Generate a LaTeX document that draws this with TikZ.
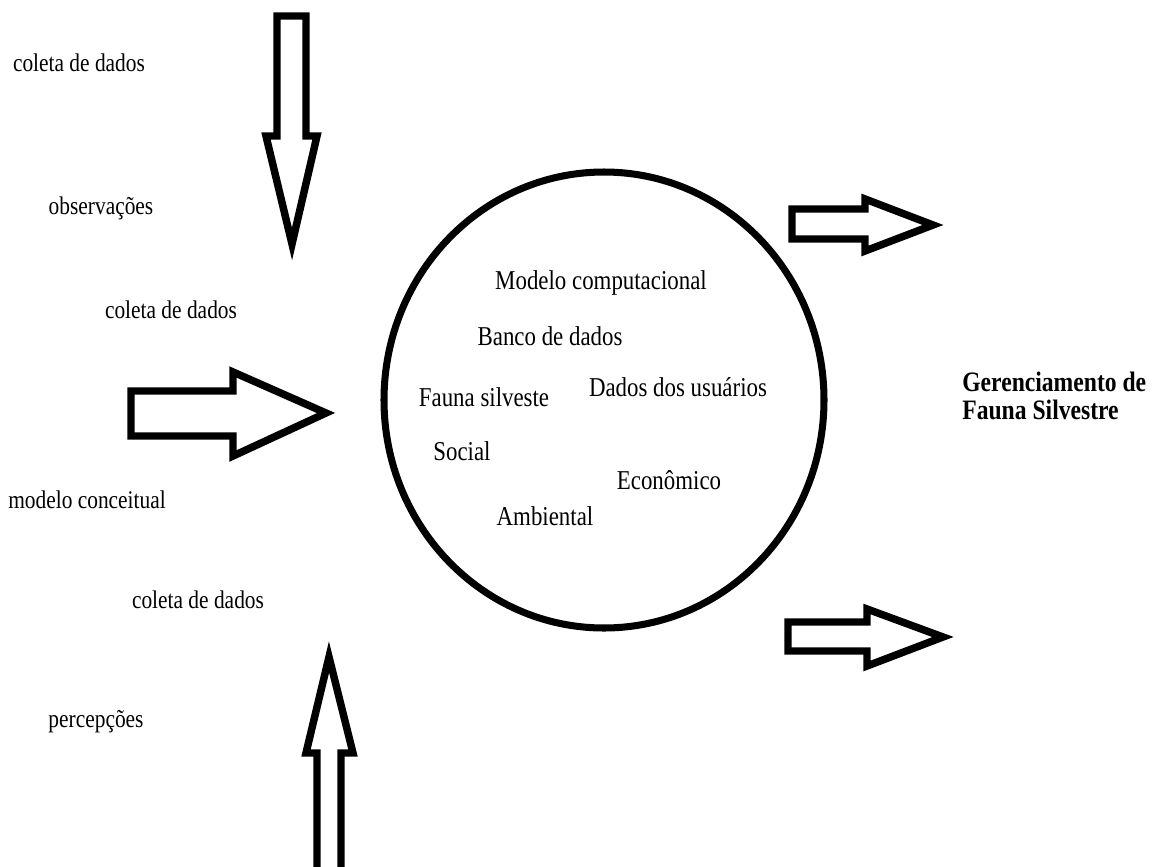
\documentclass[tikz,border=0pt]{standalone}
\usepackage{fontspec}
\setmainfont{Liberation Serif}[FakeStretch=0.84]
\usepackage{tikz}

\begin{document}
\begin{tikzpicture}[x=0.02cm,y=-0.02cm]

	\tikzstyle block arrows=[line width=7.5pt*0.567, line join=miter, miter limit=6];
	\tikzstyle outer labels=[font=\fontsize{14.5}{16}\selectfont, inner sep=0pt];
	\tikzstyle inner labels=[font=\fontsize{15.5}{17}\selectfont, inner sep=0pt];

	\useasboundingbox (0,0) rectangle (1160,866);

	% system in the middle
	\draw[line width=4pt] (604,400) ellipse (220 and 228);

	% arrows coming in
	\draw[block arrows] (277,16) -- (306,16) -- (306,136) -- (317,136) -- (292,244) -- (266,136) -- (277,136) -- cycle;
	\draw[block arrows] (131,391) -- (233,391) -- (233,372) -- (326,413) -- (233,456) -- (233,436) -- (131,436) -- cycle;
	\draw[block arrows] (317,870) -- (317,753) -- (306,753) -- (329,657) -- (353,753) -- (341,753) -- (341,870);

	% arrows going out
	\draw[block arrows] (792,209) -- (865,209) -- (865,199) -- (933,225) -- (865,251) -- (865,239) -- (792,239) -- cycle;
	\draw[block arrows] (788,622) -- (867,622) -- (867,609) -- (943,637) -- (867,666) -- (867,651) -- (788,651) -- cycle;

	% sources
	\node[outer labels] (coleta1) at (79,63) {coleta de dados};
	\node[outer labels] (observ) at (101,208) {observações};
	\node[outer labels] (coleta2) at (171,310) {coleta de dados};
	\node[outer labels] (modelo) at (87,500) {modelo conceitual};
	\node[outer labels] (coleta3) at (198,600) {coleta de dados};
	\node[outer labels] (percep) at (96,722) {percepções};

	% contents of the system
	\node[inner labels] (computacional) at (601,283) {Modelo computacional};
	\node[inner labels] (banco) at (550,336) {Banco de dados};
	\node[inner labels] (fauna) at (484,397) {Fauna silveste};
	\node[inner labels] (usuarios) at (678,387) {Dados dos usuários};
	\node[inner labels] (social) at (462,451) {Social};
	\node[inner labels] (economico) at (669,480) {Econômico};
	\node[inner labels] (ambiental) at (545,516) {Ambiental};

	% result
	\node[outer labels, font=\fontsize{16}{16}\selectfont\bfseries, align=left, anchor=west] (gerenciamento) at (962,396) {Gerenciamento de\\Fauna Silvestre};

\end{tikzpicture}
\end{document}
